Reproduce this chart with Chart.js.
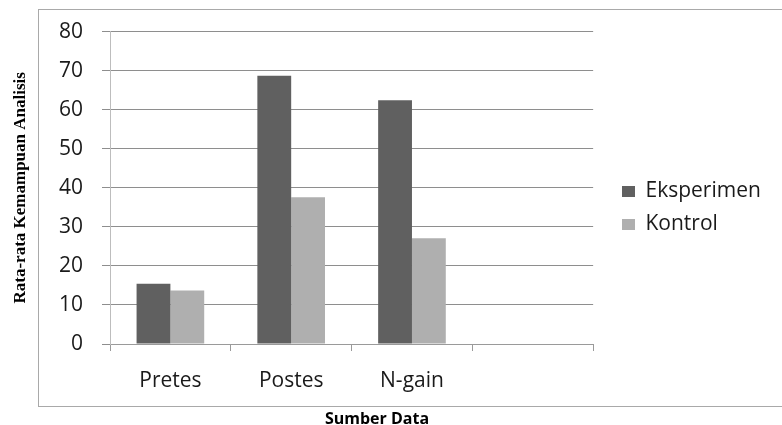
<!DOCTYPE html>
<html>
<head>
<meta charset="utf-8">
<script src="https://cdn.jsdelivr.net/npm/chart.js@4.4.1/dist/chart.umd.min.js"></script>
<style>
  html, body { margin: 0; padding: 0; background: #ffffff; }
  #wrap { width: 782px; height: 425px; position: relative; }
</style>
</head>
<body>
<div id="wrap"><canvas id="chart"></canvas></div>
<script>
// Category groups (the fourth slot is left empty)
const categories = ['Pretes', 'Postes', 'N-gain', ''];
// Mean analysis ability scores per group
const eksperimen = [15.4, 68.7, 62.4, null];
const kontrol = [13.7, 37.6, 27.1, null];
// Value axis ticks
const yTicks = [0, 10, 20, 30, 40, 50, 60, 70, 80];
const seriesNames = ['Eksperimen', 'Kontrol'];
const yAxisTitle = 'Rata-rata Kemampuan Analisis';
const xAxisTitle = 'Sumber Data';

const sansFont = 'Open Sans';
const textColor = '#1a1a1a';

// Thin grey border around the chart block
const framePlugin = {
  id: 'frame',
  beforeDraw(chart) {
    const ctx = chart.ctx;
    ctx.save();
    ctx.strokeStyle = '#a9a9a9';
    ctx.lineWidth = 1;
    ctx.strokeRect(38.5, 9.5, 800, 397);
    ctx.restore();
  }
};

// Place the legend block beside the plot, next to its middle
const legendPlacePlugin = {
  id: 'legendPlace',
  afterLayout(chart) {
    const lg = chart.legend;
    if (!lg) return;
    const p = lg.options.labels.padding;
    const dx = 622 - p - lg.left;
    const dy = 181 - p - lg.top;
    lg.left += dx; lg.right += dx;
    lg.top += dy; lg.bottom += dy;
  }
};

new Chart(document.getElementById('chart'), {
  type: 'bar',
  data: {
    labels: categories,
    datasets: [
      { label: seriesNames[0], data: eksperimen, backgroundColor: '#606060', borderWidth: 0 },
      { label: seriesNames[1], data: kontrol, backgroundColor: '#afafaf', borderWidth: 0 }
    ]
  },
  options: {
    responsive: true,
    maintainAspectRatio: false,
    animation: false,
    layout: { padding: { left: 0, right: 28, top: 0, bottom: 0 } },
    datasets: { bar: { categoryPercentage: 0.56, barPercentage: 1.0 } },
    plugins: {
      tooltip: { enabled: false },
      legend: {
        position: 'right',
        align: 'start',
        labels: {
          boxWidth: 13,
          boxHeight: 11,
          padding: 12,
          color: textColor,
          font: { family: sansFont, size: 21 }
        }
      },
      title: {
        display: true,
        position: 'bottom',
        text: xAxisTitle,
        color: '#000000',
        font: { family: sansFont, size: 16, weight: 'bold', lineHeight: 0.75 },
        padding: { top: 0, bottom: 0 }
      }
    },
    scales: {
      x: {
        grid: {
          display: true,
          drawOnChartArea: false,
          drawTicks: true,
          tickLength: 7,
          offset: true,
          color: '#9a9a9a'
        },
        border: { color: '#9a9a9a' },
        ticks: { padding: 17, color: textColor, font: { family: sansFont, size: 21 } },
        afterFit(scale) { scale.height = 69; }
      },
      y: {
        min: 0,
        max: 80,
        afterBuildTicks(scale) { scale.ticks = yTicks.map(v => ({ value: v })); },
        ticks: { padding: 19, color: textColor, font: { family: sansFont, size: 21 } },
        grid: { color: '#8e8e8e', tickLength: 8 },
        border: { color: '#bdbdbd' },
        title: {
          display: true,
          text: yAxisTitle,
          color: '#000000',
          font: { family: 'Liberation Serif', size: 17, weight: 'bold' },
          padding: { top: 10, bottom: 0 }
        },
        afterFit(scale) { scale.width = 110; }
      }
    }
  },
  plugins: [framePlugin, legendPlacePlugin]
});
</script>
</body>
</html>
